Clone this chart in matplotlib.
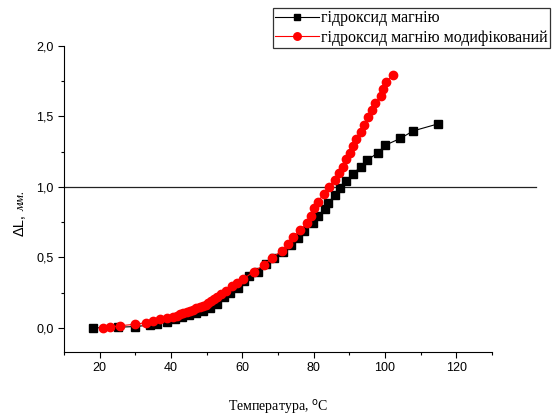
import numpy as np
import matplotlib.pyplot as plt
from matplotlib.ticker import MultipleLocator, FuncFormatter

# --- data ------------------------------------------------------------------
temp_plain = [18, 25, 30, 34, 36, 39, 41, 43, 45, 47, 49, 51, 53, 54.8, 56.5,
              58.9, 60.5, 62.0, 64.3, 66.7, 69.0, 71.3, 73.7, 75.6, 77.4,
              79.8, 81.2, 83.3, 84.0, 86.1, 87.3, 89.2, 91.1, 93.2, 95.1,
              98.1, 100.1, 104.3, 108.0, 115.0]
dl_plain = [0.0, 0.005, 0.01, 0.02, 0.03, 0.045, 0.06, 0.075, 0.09, 0.105,
            0.12, 0.14, 0.17, 0.222, 0.25, 0.28, 0.33, 0.365, 0.40, 0.45,
            0.494, 0.541, 0.589, 0.64, 0.69, 0.747, 0.79, 0.84, 0.889, 0.94,
            0.99, 1.045, 1.092, 1.144, 1.19, 1.243, 1.295, 1.343, 1.397, 1.447]

temp_mod = [21.0, 22.8, 25.8, 29.9, 33.0, 34.9, 36.9, 39.0, 40.7, 41.6, 42.6,
            43.5, 44.4, 45.3, 46.2, 47.1, 48.0, 48.9, 49.7, 50.5, 51.3, 52.1,
            53.0, 54.0, 55.3, 57.2, 58.6, 60.2, 63.2, 66.0, 68.2, 71.0, 72.9,
            74.1, 76.3, 78.2, 79.3, 80.0, 81.2, 82.9, 84.2, 86.0, 87.0, 88.2,
            89.2, 90.1, 91.1, 92.0, 93.2, 94.2, 95.3, 96.3, 97.2, 98.8, 99.6,
            100.2, 102.2]
dl_mod = [0.0, 0.005, 0.016, 0.026, 0.038, 0.05, 0.062, 0.073, 0.08, 0.088,
          0.097, 0.105, 0.113, 0.121, 0.13, 0.139, 0.148, 0.157, 0.166, 0.178,
          0.19, 0.205, 0.222, 0.24, 0.265, 0.295, 0.32, 0.345, 0.40, 0.445,
          0.494, 0.546, 0.596, 0.648, 0.695, 0.747, 0.794, 0.849, 0.896, 0.95,
          1.0, 1.05, 1.10, 1.144, 1.196, 1.239, 1.291, 1.34, 1.392, 1.44,
          1.494, 1.546, 1.594, 1.641, 1.693, 1.74, 1.794]

ref_level = 1.0
ref_span = [10, 142.3]

label_plain = 'гідроксид магнію'
label_mod = 'гідроксид магнію модифікований'

SERIF = ['Liberation Serif', 'DejaVu Serif']
SANS = ['Liberation Sans', 'DejaVu Sans']
plt.rcParams['font.family'] = SANS

fig = plt.figure(figsize=(5.57, 4.16), dpi=100)
ax = fig.add_axes([0.115, 0.154, 0.768, 0.736])

ax.plot(ref_span, [ref_level, ref_level], color='#222222', lw=0.9,
        clip_on=False, zorder=1)
ax.plot(temp_plain, dl_plain, color='black', lw=0.8, marker='s', ms=5.2,
        label=label_plain, zorder=2, clip_on=False)
ax.plot(temp_mod, dl_mod, color='red', lw=0.8, marker='o', ms=6.0,
        label=label_mod, zorder=3, clip_on=False)

ax.set_xlim(10, 130)
ax.set_ylim(-0.17, 2.0)
ax.xaxis.set_major_locator(MultipleLocator(20))
ax.xaxis.set_minor_locator(MultipleLocator(10))
ax.yaxis.set_major_locator(MultipleLocator(0.5))
ax.yaxis.set_minor_locator(MultipleLocator(0.25))
ax.yaxis.set_major_formatter(FuncFormatter(lambda v, p: f'{v:.1f}'.replace('.', ',')))
ax.tick_params(which='major', direction='out', length=4, width=0.8, labelsize=9)
ax.tick_params(which='minor', direction='out', length=2.5, width=0.8)
for s in ('top', 'right'):
    ax.spines[s].set_visible(False)
for s in ('left', 'bottom'):
    ax.spines[s].set_linewidth(0.8)

ax.set_xlabel('Температура, $^{\\rm o}$C', family=SERIF, fontsize=10, labelpad=17)
# y label: "ΔL," upright sans, "мм." italic serif, stacked along the rotated line
fig.text(0.036, 0.485, 'ΔL,', family=SANS, fontsize=10.5, rotation=90,
         ha='center', va='top')
fig.text(0.038, 0.492, 'мм.', family=SERIF, style='italic', fontsize=9.5,
         rotation=90, ha='center', va='bottom')

leg = ax.legend(loc='upper left', bbox_to_anchor=(273 / 557, 1 - 8 / 416),
                bbox_transform=fig.transFigure, prop={'family': SERIF, 'size': 11.5},
                frameon=True, fancybox=False, edgecolor='black', borderpad=0.15,
                handlelength=2.7, handletextpad=0.15, labelspacing=0.2,
                borderaxespad=0, markerscale=0.9)
leg.get_frame().set_linewidth(0.9)

fig.savefig('out.png', dpi=100)
